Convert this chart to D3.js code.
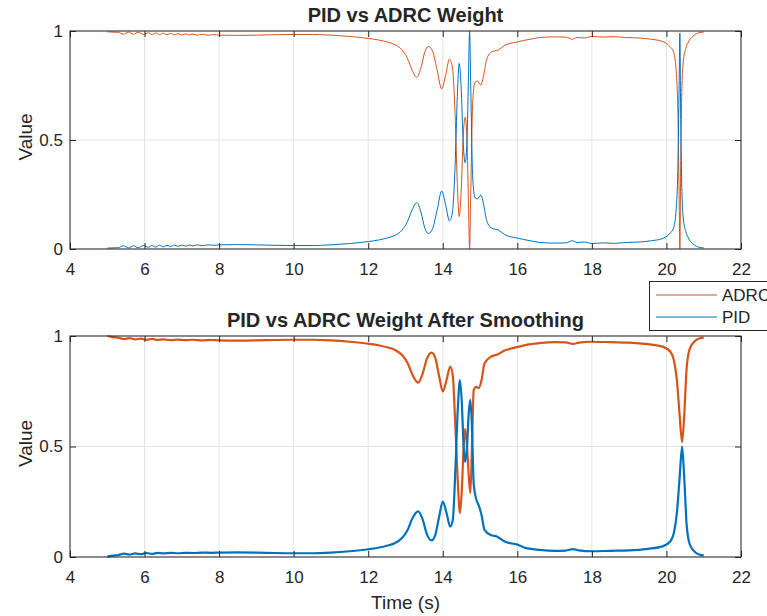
<!DOCTYPE html>
<html>
<head>
<meta charset="utf-8">
<script src="https://cdn.jsdelivr.net/npm/d3@7"></script>
<style>
  body { margin: 0; background: #fff; }
  text { font-family: "Liberation Sans", Arial, sans-serif; fill: #262626; }
</style>
</head>
<body>
<svg id="chart" width="767" height="616"></svg>
<script>
// data

// top plot: raw weights
var tTop = [5.00, 5.15, 5.30, 5.43, 5.57, 5.70, 5.83, 5.97, 6.10, 6.20, 6.30, 6.40, 6.50, 6.60, 6.70, 6.80, 6.90, 7.00, 7.10, 7.20,
  7.30, 7.40, 7.55, 7.70, 7.85, 8.0, 8.5, 9.0, 9.5, 10.0, 10.5, 11.0, 11.5, 12.0, 12.3, 12.5, 12.72, 12.9, 13.05, 13.18,
  13.3, 13.42, 13.52, 13.61, 13.72, 13.85, 13.97, 14.08, 14.18, 14.26, 14.33, 14.39, 14.44, 14.49, 14.55, 14.60, 14.65, 14.69, 14.72, 14.75,
  14.80, 14.86, 14.93, 15.02, 15.1, 15.18, 15.31, 15.49, 15.67, 16.0, 16.34, 16.6, 17.0, 17.3, 17.48, 17.6, 17.8, 18.0, 18.3, 18.6,
  18.9, 19.26, 19.6, 19.88, 20.1, 20.19, 20.26, 20.31, 20.34, 20.36, 20.38, 20.41, 20.45, 20.52, 20.59, 20.7, 20.81, 20.9, 21.0];
var adrcTop = [0.996, 0.995, 0.994, 0.985, 0.995, 0.985, 0.994, 0.984, 0.992, 0.984, 0.991, 0.983, 0.990, 0.983, 0.989, 0.982, 0.988, 0.982, 0.987, 0.982,
  0.986, 0.981, 0.985, 0.981, 0.983, 0.981, 0.980, 0.981, 0.983, 0.984, 0.984, 0.981, 0.975, 0.966, 0.958, 0.950, 0.937, 0.915, 0.875, 0.820,
  0.787, 0.835, 0.905, 0.929, 0.910, 0.820, 0.734, 0.800, 0.871, 0.830, 0.620, 0.300, 0.149, 0.250, 0.520, 0.605, 0.500, 0.200, 0.000, 0.250,
  0.660, 0.764, 0.770, 0.752, 0.800, 0.871, 0.904, 0.913, 0.935, 0.950, 0.962, 0.970, 0.973, 0.972, 0.962, 0.970, 0.968, 0.975, 0.972, 0.974,
  0.970, 0.968, 0.962, 0.953, 0.927, 0.904, 0.820, 0.600, 0.250, 0.000, 0.350, 0.700, 0.858, 0.920, 0.950, 0.975, 0.988, 0.993, 0.995];
var pidTop = [0.004, 0.005, 0.006, 0.015, 0.005, 0.015, 0.006, 0.016, 0.008, 0.016, 0.009, 0.017, 0.010, 0.017, 0.011, 0.018, 0.012, 0.018, 0.013, 0.018,
  0.014, 0.019, 0.015, 0.019, 0.017, 0.019, 0.020, 0.019, 0.017, 0.016, 0.016, 0.019, 0.025, 0.034, 0.042, 0.050, 0.063, 0.085, 0.125, 0.180,
  0.213, 0.165, 0.095, 0.071, 0.090, 0.180, 0.266, 0.200, 0.129, 0.170, 0.380, 0.700, 0.851, 0.750, 0.480, 0.395, 0.500, 0.800, 1.000, 0.750,
  0.340, 0.236, 0.230, 0.248, 0.200, 0.129, 0.096, 0.087, 0.065, 0.050, 0.038, 0.030, 0.027, 0.028, 0.038, 0.030, 0.032, 0.025, 0.028, 0.026,
  0.030, 0.032, 0.038, 0.047, 0.073, 0.096, 0.180, 0.400, 0.750, 0.990, 0.650, 0.300, 0.142, 0.080, 0.050, 0.025, 0.012, 0.007, 0.005];

// bottom plot: smoothed weights
var tBot = [5.00, 5.15, 5.30, 5.45, 5.60, 5.75, 5.90, 6.05, 6.20, 6.35, 6.50, 6.70, 6.90, 7.10, 7.30, 7.55, 7.80, 8.0, 8.5, 9.0,
  9.5, 10.0, 10.5, 11.0, 11.5, 12.0, 12.3, 12.5, 12.72, 12.9, 13.05, 13.2, 13.34, 13.46, 13.57, 13.7, 13.8, 13.9, 14.0, 14.1,
  14.2, 14.27, 14.33, 14.4, 14.46, 14.51, 14.56, 14.6, 14.65, 14.7, 14.74, 14.78, 14.83, 14.9, 14.96, 15.04, 15.12, 15.3, 15.45, 15.66,
  16.0, 16.24, 16.6, 17.0, 17.3, 17.5, 17.65, 18.0, 18.5, 19.0, 19.5, 19.9, 20.1, 20.2, 20.28, 20.35, 20.42, 20.48, 20.54, 20.62,
  20.75, 20.9, 21.0];
var adrcBot = [1.000, 0.995, 0.992, 0.986, 0.990, 0.985, 0.988, 0.983, 0.987, 0.982, 0.985, 0.981, 0.984, 0.981, 0.983, 0.980, 0.982, 0.980, 0.979, 0.980,
  0.982, 0.983, 0.983, 0.980, 0.974, 0.965, 0.957, 0.949, 0.937, 0.915, 0.880, 0.820, 0.789, 0.830, 0.895, 0.925, 0.900, 0.820, 0.749, 0.800,
  0.862, 0.820, 0.620, 0.350, 0.199, 0.300, 0.500, 0.580, 0.500, 0.360, 0.290, 0.480, 0.756, 0.770, 0.764, 0.800, 0.877, 0.907, 0.915, 0.934,
  0.950, 0.960, 0.968, 0.972, 0.971, 0.964, 0.970, 0.974, 0.972, 0.970, 0.963, 0.952, 0.930, 0.890, 0.800, 0.650, 0.520, 0.650, 0.850, 0.940,
  0.975, 0.990, 0.993];
var pidBot = [0.002, 0.006, 0.009, 0.015, 0.011, 0.016, 0.013, 0.018, 0.014, 0.019, 0.016, 0.019, 0.017, 0.019, 0.018, 0.020, 0.019, 0.020, 0.021, 0.020,
  0.018, 0.017, 0.017, 0.020, 0.026, 0.035, 0.043, 0.051, 0.063, 0.085, 0.120, 0.180, 0.206, 0.170, 0.105, 0.075, 0.100, 0.180, 0.251, 0.200,
  0.138, 0.170, 0.360, 0.660, 0.800, 0.700, 0.500, 0.430, 0.500, 0.660, 0.711, 0.600, 0.330, 0.260, 0.236, 0.190, 0.123, 0.098, 0.093, 0.070,
  0.056, 0.040, 0.032, 0.028, 0.029, 0.036, 0.030, 0.026, 0.028, 0.030, 0.037, 0.048, 0.070, 0.110, 0.200, 0.350, 0.500, 0.350, 0.150, 0.060,
  0.025, 0.010, 0.007];

var titles = ["PID vs ADRC Weight", "PID vs ADRC Weight After Smoothing"];
var seriesNames = ["ADRC", "PID"];
var seriesColors = ["#D95319", "#0072BD"];
var xTicks = [4, 6, 8, 10, 12, 14, 16, 18, 20, 22];
var yTicks = [0, 0.5, 1];

var svg = d3.select("#chart");
var left = 70, right = 741;

var x = d3.scaleLinear().domain([4, 22]).range([left, right]);

function drawPanel(top, bottom, title, t, adrc, pid, lw, showXLabel) {
  var y = d3.scaleLinear().domain([0, 1]).range([bottom, top]);
  var g = svg.append("g");

  // grid
  g.selectAll(".gx").data(xTicks).enter().append("line")
    .attr("x1", function(d) { return x(d); }).attr("x2", function(d) { return x(d); })
    .attr("y1", top).attr("y2", bottom)
    .attr("stroke", "#e3e3e3").attr("stroke-width", 1);
  g.selectAll(".gy").data(yTicks).enter().append("line")
    .attr("x1", left).attr("x2", right)
    .attr("y1", function(d) { return y(d); }).attr("y2", function(d) { return y(d); })
    .attr("stroke", "#e3e3e3").attr("stroke-width", 1);

  var line = d3.line()
    .x(function(d) { return x(d[0]); })
    .y(function(d) { return y(d[1]); })
    .curve(d3.curveMonotoneX);

  [adrc, pid].forEach(function(vals, i) {
    g.append("path")
      .datum(t.map(function(tt, k) { return [tt, vals[k]]; }))
      .attr("fill", "none")
      .attr("stroke", seriesColors[i])
      .attr("stroke-width", lw)
      .attr("stroke-linejoin", "round")
      .attr("d", line);
  });

  // axes, ticks pointing inward on all four sides
  var ax = g.append("g").attr("transform", "translate(0," + bottom + ")")
    .call(d3.axisBottom(x).tickValues(xTicks).tickSizeInner(-6).tickSizeOuter(0).tickPadding(14));
  var axTop = g.append("g").attr("transform", "translate(0," + top + ")")
    .call(d3.axisTop(x).tickValues(xTicks).tickSizeInner(-6).tickSizeOuter(0).tickFormat(""));
  var ay = g.append("g").attr("transform", "translate(" + left + ",0)")
    .call(d3.axisLeft(y).tickValues(yTicks).tickSizeInner(-6).tickSizeOuter(0).tickPadding(7)
      .tickFormat(function(d) { return d === 0.5 ? "0.5" : d3.format("d")(d); }));
  var ayR = g.append("g").attr("transform", "translate(" + right + ",0)")
    .call(d3.axisRight(y).tickValues(yTicks).tickSizeInner(-6).tickSizeOuter(0).tickFormat(""));

  [ax, axTop, ay, ayR].forEach(function(a) {
    a.select(".domain").remove();
    a.selectAll(".tick line").attr("stroke", "#262626");
    a.selectAll("text").attr("font-size", 17).attr("fill", "#262626")
      .style("font-family", "'Liberation Sans', Arial, sans-serif");
  });

  // box
  g.append("rect")
    .attr("x", left).attr("y", top)
    .attr("width", right - left).attr("height", bottom - top)
    .attr("fill", "none").attr("stroke", "#262626").attr("stroke-width", 1);

  // title
  g.append("text")
    .attr("x", (left + right) / 2).attr("y", top - 9)
    .attr("text-anchor", "middle")
    .attr("font-size", 20).attr("font-weight", "bold")
    .attr("fill", "#000")
    .text(title);

  // y label
  g.append("text")
    .attr("transform", "translate(32," + ((top + bottom) / 2 - 3) + ") rotate(-90)")
    .attr("text-anchor", "middle")
    .attr("font-size", 19)
    .text("Value");

  if (showXLabel) {
    g.append("text")
      .attr("x", (left + right) / 2).attr("y", bottom + 52)
      .attr("text-anchor", "middle")
      .attr("font-size", 19)
      .text("Time (s)");
  }
}

drawPanel(31, 249, titles[0], tTop, adrcTop, pidTop, 1, false);
drawPanel(336, 557, titles[1], tBot, adrcBot, pidBot, 2.2, true);

// legend sits between the panels, running off the right edge
var leg = svg.append("g");
leg.append("rect")
  .attr("x", 649.5).attr("y", 281.5).attr("width", 130).attr("height", 49)
  .attr("fill", "#fff").attr("stroke", "#262626").attr("stroke-width", 1);
seriesNames.forEach(function(name, i) {
  var yy = 295 + i * 22;
  leg.append("line")
    .attr("x1", 656).attr("x2", 717).attr("y1", yy).attr("y2", yy)
    .attr("stroke", seriesColors[i]).attr("stroke-width", 1);
  leg.append("text")
    .attr("x", 722).attr("y", yy).attr("dy", "0.35em")
    .attr("font-size", 17)
    .text(name);
});
</script>
</body>
</html>
